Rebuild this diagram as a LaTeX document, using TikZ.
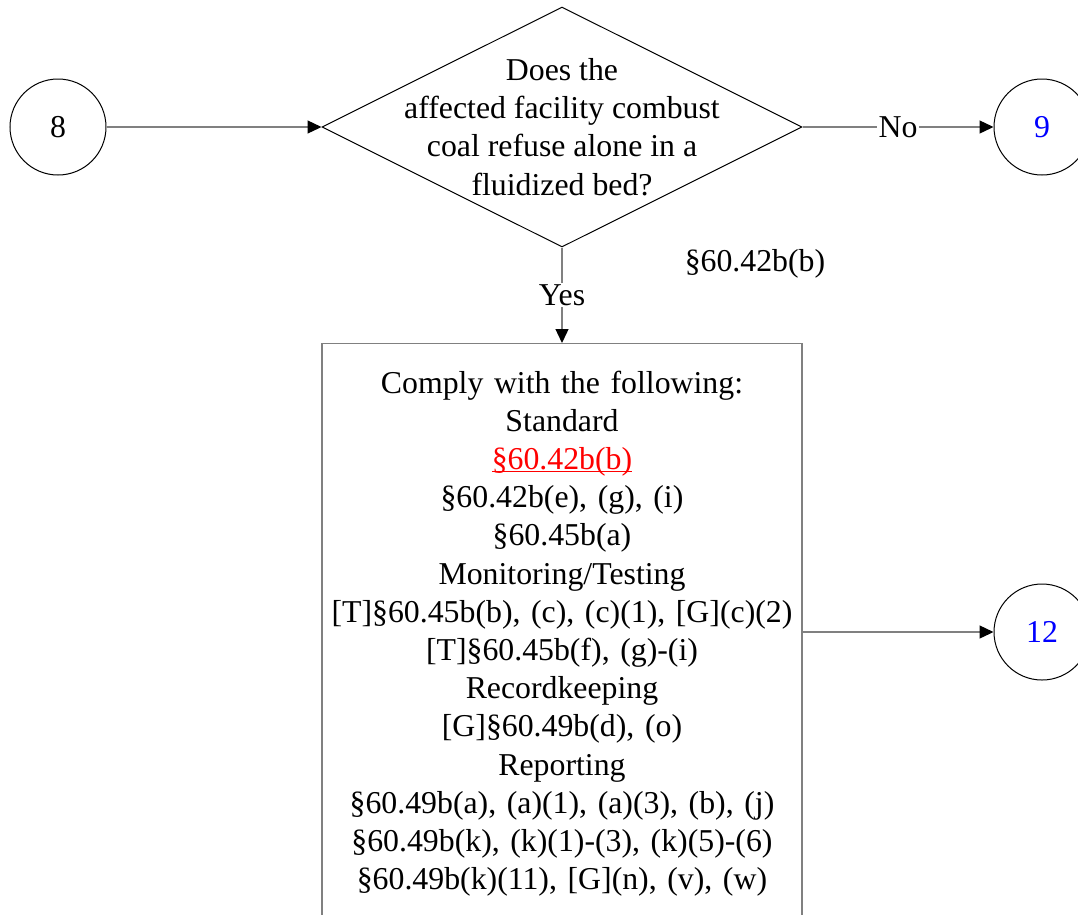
\documentclass[tikz,border=0pt]{standalone}
\usepackage{fontspec}
\setmainfont{Liberation Serif}
\usetikzlibrary{shapes.geometric,arrows.meta}
\definecolor{linegray}{HTML}{808080}
\definecolor{linkblue}{HTML}{0000FF}
\definecolor{linkred}{HTML}{FF0000}
\begin{document}
\begin{tikzpicture}[x=1pt,y=-1pt,
  every node/.style={font=\fontsize{31.8}{38.2}\selectfont},
  conn/.style={draw=linegray, line width=1.3pt, -{Triangle[length=14pt,width=13pt,color=black]}},
  connector/.style={circle, draw=black, line width=1pt, minimum size=96pt, inner sep=0pt},
  decision/.style={diamond, draw=black, line width=1pt, minimum width=480pt, minimum height=240pt, inner sep=0pt},
  procbox/.style={rectangle, draw=linegray, line width=1.3pt, anchor=north, text width=480pt, inner xsep=0pt, inner ysep=27pt, align=center},
  edgelabel/.style={fill=white, inner sep=1.5pt}
]
\useasboundingbox (0,0) rectangle (1078,914);
\clip (0,0) rectangle (1078,914);

\node[connector] (c8) at (58,127) {8};
\node[connector] (c9) at (1042,127) {\textcolor{linkblue}{9}};
\node[connector] (c12) at (1042,632) {\textcolor{linkblue}{12}};

\node[decision] (d) at (562,127) {};
\node[align=center, inner sep=0pt] (dtext) at (562,127) {Does the\\affected facility combust\\coal refuse alone in a\\fluidized bed?};

\node[anchor=center, inner sep=0pt] (ref) at (755,264) {§60.42b(b)};

\node[procbox] (box) at (562,343) {Comply with the following:\\Standard\\\textcolor{linkred}{\underline{\smash{§60.42b(b)}}}\\§60.42b(e), (g), (i)\\§60.45b(a)\\Monitoring/Testing\\{[T]}§60.45b(b), (c), (c)(1), [G](c)(2)\\{[T]}§60.45b(f), (g)-(i)\\Recordkeeping\\{[G]}§60.49b(d), (o)\\Reporting\\§60.49b(a), (a)(1), (a)(3), (b), (j)\\§60.49b(k), (k)(1)-(3), (k)(5)-(6)\\§60.49b(k)(11), [G](n), (v), (w)};

\draw[conn] (c8.east) -- (d.west);
\draw[conn] (d.east) -- node[edgelabel] {No} (c9.west);
\draw[conn] (d.south) -- node[edgelabel] {Yes} (box.north);
\draw[conn] (box.east |- c12.west) -- (c12.west);
\end{tikzpicture}
\end{document}
